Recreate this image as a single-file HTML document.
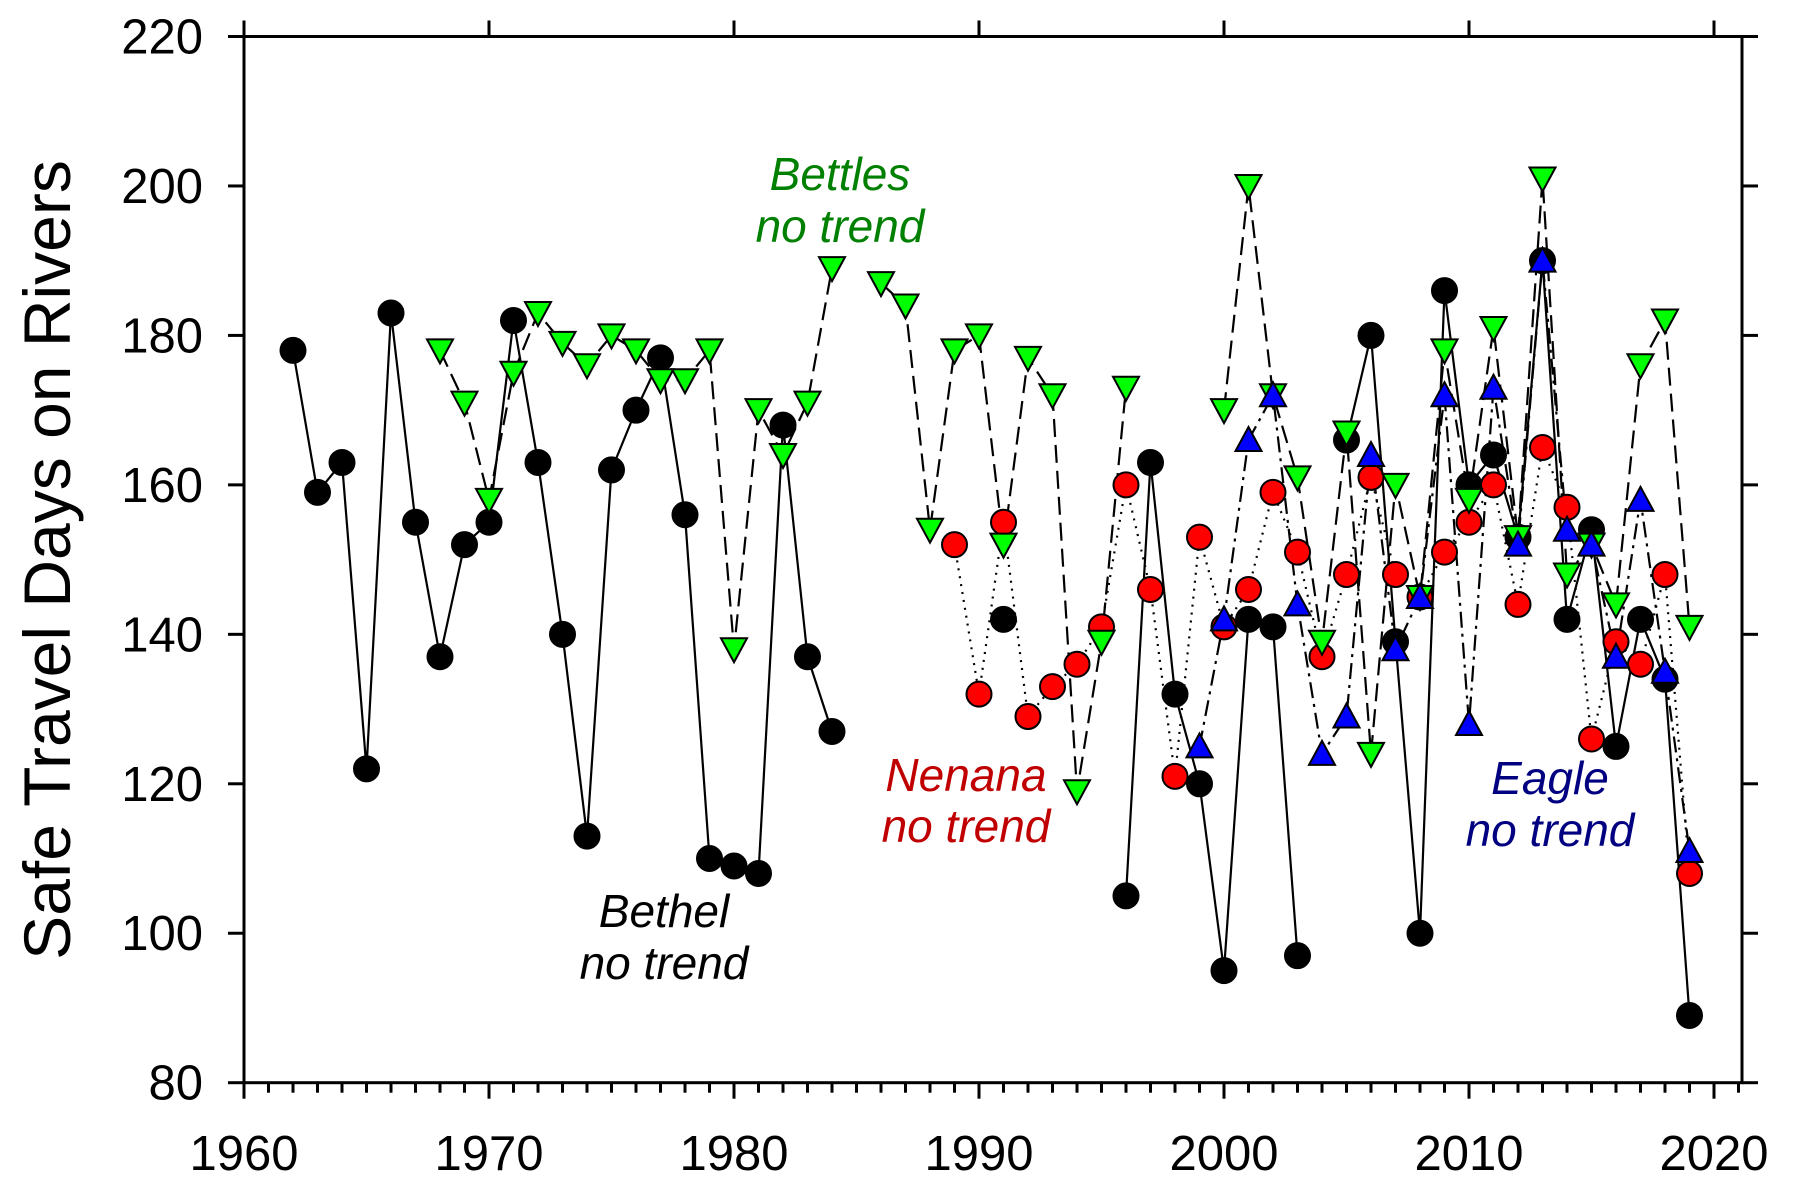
<!DOCTYPE html>
<html><head><meta charset="utf-8">
<style>
html,body{margin:0;padding:0;background:#fff;}
svg{display:block;font-family:"Liberation Sans",Arial,sans-serif;}
</style></head>
<body>
<svg id="chart" width="1795" height="1187" viewBox="0 0 1795 1187" xmlns="http://www.w3.org/2000/svg">
<g id="axes"></g>
<g id="series"></g>
<text transform="translate(70,560) rotate(-90)" text-anchor="middle" font-size="66">Safe Travel Days on Rivers</text>
<text x="840" y="190" text-anchor="middle" font-size="46" font-style="italic" fill="#008000">Bettles</text>
<text x="840" y="242" text-anchor="middle" font-size="46" font-style="italic" fill="#008000">no trend</text>
<text x="966" y="791" text-anchor="middle" font-size="46" font-style="italic" fill="#c00000">Nenana</text>
<text x="966" y="842" text-anchor="middle" font-size="46" font-style="italic" fill="#c00000">no trend</text>
<text x="1550" y="794" text-anchor="middle" font-size="46" font-style="italic" fill="#000080">Eagle</text>
<text x="1550" y="846" text-anchor="middle" font-size="46" font-style="italic" fill="#000080">no trend</text>
<text x="664" y="927" text-anchor="middle" font-size="46" font-style="italic" fill="#000">Bethel</text>
<text x="664" y="979" text-anchor="middle" font-size="46" font-style="italic" fill="#000">no trend</text>
</svg>
<script>
const NS="http://www.w3.org/2000/svg";
const bethelYears=[1962,1963,1964,1965,1966,1967,1968,1969,1970,1971,1972,1973,1974,1975,1976,1977,1978,1979,1980,1981,1982,1983,1984,1985,1991,1992,1996,1997,1998,1999,2000,2001,2002,2003,2004,2005,2006,2007,2008,2009,2010,2011,2012,2013,2014,2015,2016,2017,2018,2019];
const bethelValues=[178,159,163,122,183,155,137,152,155,182,163,140,113,162,170,177,156,110,109,108,168,137,127,null,142,null,105,163,132,120,95,142,141,97,null,166,180,139,100,186,160,164,153,190,142,154,125,142,134,89];
const bettlesYears=[1968,1969,1970,1971,1972,1973,1974,1975,1976,1977,1978,1979,1980,1981,1982,1983,1984,1985,1986,1987,1988,1989,1990,1991,1992,1993,1994,1995,1996,1997,2000,2001,2002,2003,2004,2005,2006,2007,2008,2009,2010,2011,2012,2013,2014,2015,2016,2017,2018,2019];
const bettlesValues=[178,171,158,175,183,179,176,180,178,174,174,178,138,170,164,171,189,null,187,184,154,178,180,152,177,172,119,139,173,null,170,200,172,161,139,167,124,160,145,178,158,181,153,201,148,152,144,176,182,141];
const nenanaYears=[1989,1990,1991,1992,1993,1994,1995,1996,1997,1998,1999,2000,2001,2002,2003,2004,2005,2006,2007,2008,2009,2010,2011,2012,2013,2014,2015,2016,2017,2018,2019];
const nenanaValues=[152,132,155,129,133,136,141,160,146,121,153,141,146,159,151,137,148,161,148,145,151,155,160,144,165,157,126,139,136,148,108];
const eagleYears=[1999,2000,2001,2002,2003,2004,2005,2006,2007,2008,2009,2010,2011,2012,2013,2014,2015,2016,2017,2018,2019];
const eagleValues=[125,142,166,172,144,124,129,164,138,145,172,128,173,152,190,154,152,137,158,135,111];
const xTicks=[1960,1970,1980,1990,2000,2010,2020];
const yTicks=[80,100,120,140,160,180,200,220];

const L=244,R=1742,T=36.5,B=1082.7;
const X0=1960,XPX=24.5;
function xs(v){return L+(v-X0)*XPX;}
function ys(v){return B-(v-80)*(B-T)/140;}

const axes=document.getElementById('axes');
const ser=document.getElementById('series');
function mk(tag,attrs,parent){const e=document.createElementNS(NS,tag);for(const k in attrs)e.setAttribute(k,attrs[k]);parent.appendChild(e);return e;}

const frame=mk('rect',{x:L,y:T,width:R-L,height:B-T,fill:'none',stroke:'#000','stroke-width':3},axes);


for(let yr=1960;yr<=2021;yr++){
  const maj=yr%10===0;
  const t=mk('line',{x1:xs(yr),x2:xs(yr),y1:B,y2:B+(maj?16:10),stroke:'#000','stroke-width':3},axes);
  
  
}
xTicks.forEach(v=>{
  const t=mk('line',{x1:xs(v),x2:xs(v),y1:T,y2:T-16,stroke:'#000','stroke-width':3},axes);
  
  
  const lb=mk('text',{x:xs(v),y:1170,'text-anchor':'middle','font-size':49},axes);
  lb.textContent=v;
  
  
});
yTicks.forEach(v=>{
  const t=mk('line',{x1:L-16,x2:L,y1:ys(v),y2:ys(v),stroke:'#000','stroke-width':3},axes);
  
  
  const t2=mk('line',{x1:R,x2:R+16,y1:ys(v),y2:ys(v),stroke:'#000','stroke-width':3},axes);
  
  
  const lb=mk('text',{x:203,y:ys(v)+17,'text-anchor':'end','font-size':49},axes);
  lb.textContent=v;
  
  
});

function line(years,vals,dash,name){
  let d='',pen=false;
  years.forEach((yr,i)=>{const v=vals[i];if(v==null){pen=false;return;}d+=(pen?'L':'M')+xs(yr)+','+ys(v);pen=true;});
  const p=mk('path',{d:d,fill:'none',stroke:'#000','stroke-width':2.2,'stroke-dasharray':dash},ser);
  
  
}
line(bethelYears,bethelValues,'none','bethel-line');
line(nenanaYears,nenanaValues,'2,6','nenana-line');
line(bettlesYears,bettlesValues,'18,8','bettles-line');
line(eagleYears,eagleValues,'16,6,3,6','eagle-line');

function circles(years,vals,fill,name){
  years.forEach((yr,i)=>{const v=vals[i];if(v==null)return;
    const c=mk('circle',{cx:xs(yr),cy:ys(v),r:12.5,fill:fill,stroke:'#000','stroke-width':2},ser);
    
    
  });
}
function tris(years,vals,fill,down,name){
  years.forEach((yr,i)=>{const v=vals[i];if(v==null)return;
    const x=xs(yr),y=ys(v),h=11;
    const pts=down?`${x-13},${y-h} ${x+13},${y-h} ${x},${y+13}`:`${x-13},${y+h} ${x+13},${y+h} ${x},${y-13}`;
    const p=mk('polygon',{points:pts,fill:fill,stroke:'#000','stroke-width':2},ser);
    
    
  });
}
circles(bethelYears,bethelValues,'#000','bethel-point');
circles(nenanaYears,nenanaValues,'#ff0000','nenana-point');
tris(bettlesYears,bettlesValues,'#00ff00',true,'bettles-point');
tris(eagleYears,eagleValues,'#0000ff',false,'eagle-point');
</script>
</body></html>
